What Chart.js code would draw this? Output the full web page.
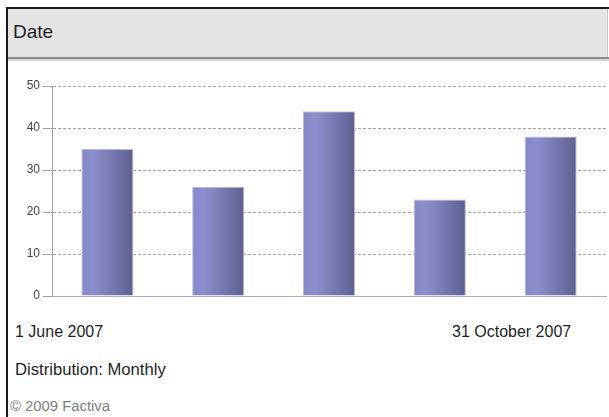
<!DOCTYPE html>
<html>
<head>
<meta charset="utf-8">
<script src="https://cdn.jsdelivr.net/npm/chart.js@4/dist/chart.umd.min.js"></script>
<style>
  html, body { margin: 0; padding: 0; background: #fff; }
  body { width: 609px; height: 417px; position: relative; overflow: hidden;
         font-family: "Liberation Sans", Arial, sans-serif; }
  .frame-left { position: absolute; left: 6px; top: 7px; width: 2px; height: 410px; background: #1a1a1a; }
  .frame-top { position: absolute; left: 6px; top: 7px; width: 603px; height: 2px; background: #1a1a1a; }
  .header { position: absolute; left: 8px; top: 9px; width: 599px; height: 48px;
            background: #e4e4e4; border-right: 1px solid #c8c8c8; }
  .header-shadow1 { position: absolute; left: 8px; top: 57px; width: 601px; height: 2px; background: #8c8c8c; }
  .header-shadow2 { position: absolute; left: 8px; top: 59px; width: 601px; height: 2px; background: #d6d6d6; }
  .txt { position: absolute; white-space: nowrap; color: #1e1e1e; }
  #title { left: 13px; top: 22px; font-size: 19px; line-height: 19px; }
  #startLabel { left: 15px; top: 324px; font-size: 16px; line-height: 16px; }
  #endLabel { left: 452px; top: 324px; font-size: 16px; line-height: 16px; }
  #dist { left: 15px; top: 362px; font-size: 16px; line-height: 16px; transform: scaleX(1.04); transform-origin: left center; }
  #copy { left: 10px; top: 399px; font-size: 14px; line-height: 14px; color: #808080; transform: scaleX(1.06); transform-origin: left center; }
  canvas { position: absolute; left: 0; top: 0; }
</style>
</head>
<body>
<div class="header"></div>
<div class="header-shadow1"></div>
<div class="header-shadow2"></div>
<div class="frame-left"></div>
<div class="frame-top"></div>
<div class="txt" id="title">Date</div>
<div class="txt" id="startLabel">1 June 2007</div>
<div class="txt" id="endLabel">31 October 2007</div>
<div class="txt" id="dist">Distribution: Monthly</div>
<div class="txt" id="copy">© 2009 Factiva</div>
<canvas id="chart" width="609" height="417"></canvas>
<script>
// Monthly article counts, June to October 2007
const months = ["June 2007", "July 2007", "August 2007", "September 2007", "October 2007"];
const counts = [35, 26, 44, 23, 38];
const yTicks = [0, 10, 20, 30, 40, 50];

const BAR_FRACTION = 0.47;

function barFill(ctx) {
  const chart = ctx.chart;
  const area = chart.chartArea;
  if (!area || !chart.scales.x) return '#7c7cb8';
  const xs = chart.scales.x;
  const cx = xs.getPixelForValue(ctx.dataIndex);
  const half = (area.width / months.length) * BAR_FRACTION / 2;
  const g = chart.ctx.createLinearGradient(cx - half, 0, cx + half, 0);
  g.addColorStop(0, '#8787c6');
  g.addColorStop(0.22, '#8e8ecd');
  g.addColorStop(0.6, '#7878b0');
  g.addColorStop(1, '#5e5e90');
  return g;
}

new Chart(document.getElementById('chart'), {
  type: 'bar',
  data: {
    labels: months,
    datasets: [{
      data: counts,
      backgroundColor: barFill,
      borderColor: '#b8b8de',
      borderWidth: 1,
      borderSkipped: 'bottom',
      categoryPercentage: 1,
      barPercentage: BAR_FRACTION
    }]
  },
  options: {
    responsive: false,
    animation: false,
    events: [],
    layout: { padding: { left: 0, right: 3, top: 86, bottom: 121 } },
    plugins: { legend: { display: false }, tooltip: { enabled: false } },
    scales: {
      x: {
        ticks: { display: false },
        grid: { display: false, drawTicks: false },
        border: { display: true, color: '#aaaacc', width: 1 },
        afterFit(scale) { scale.height = 0; }
      },
      y: {
        min: 0,
        max: 50,
        afterBuildTicks(scale) { scale.ticks = yTicks.map(v => ({ value: v })); },
        afterFit(scale) { scale.width = 52; },
        ticks: {
          padding: 3,
          color: '#444',
          font: { family: 'Liberation Sans', size: 12 }
        },
        grid: {
          color: '#a4a4a4',
          tickLength: 9,
          tickColor: '#a4a4a4',
          lineWidth: 1
        },
        border: { display: true, color: '#a0a0a0', dash: [3, 2] }
      }
    }
  }
});
</script>
</body>
</html>
